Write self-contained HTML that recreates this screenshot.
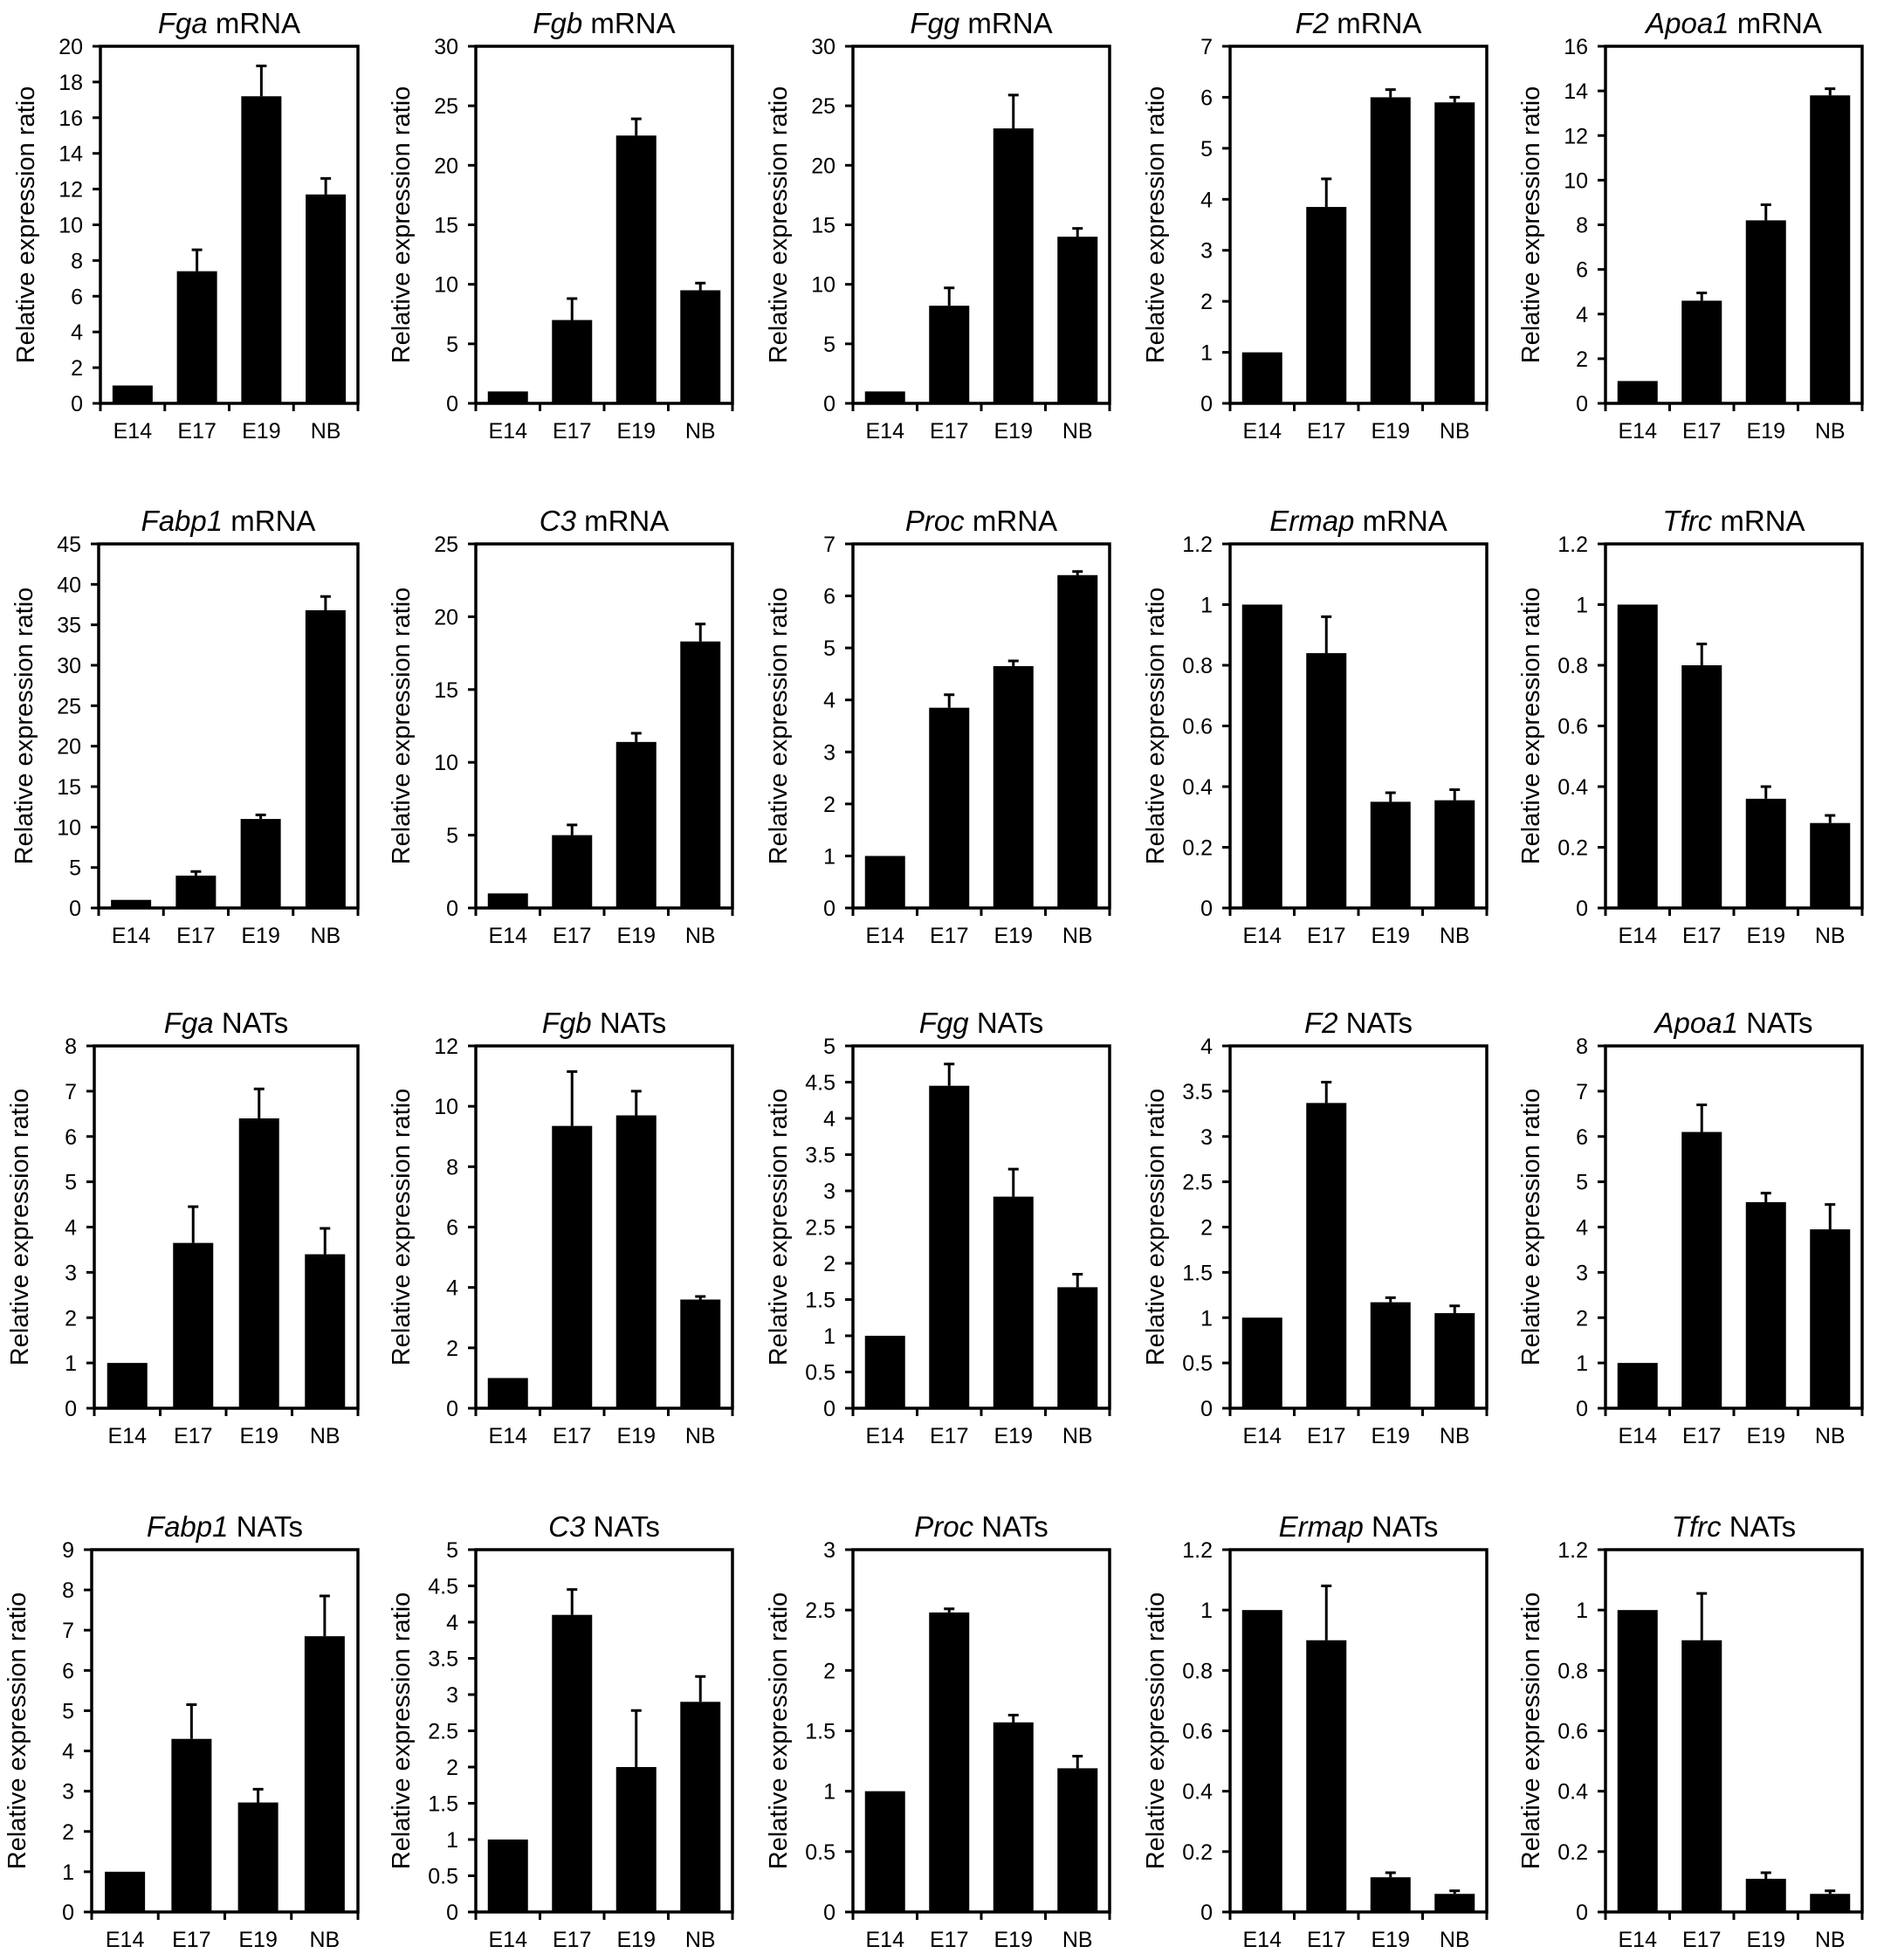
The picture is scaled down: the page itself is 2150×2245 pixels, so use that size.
<!DOCTYPE html>
<html><head><meta charset="utf-8"><style>
html,body{margin:0;padding:0;background:#fff;}
svg{display:block;font-family:"Liberation Sans",Arial,sans-serif;}
</style></head><body>
<svg id="fig" width="2150" height="2245" viewBox="0 0 2150 2245" xmlns="http://www.w3.org/2000/svg"></svg>
<script>
const categories = ["E14","E17","E19","NB"];
const geneNames = ["Fga","Fgb","Fgg","F2","Apoa1","Fabp1","C3","Proc","Ermap","Tfrc",
                   "Fga","Fgb","Fgg","F2","Apoa1","Fabp1","C3","Proc","Ermap","Tfrc"];
const titleSuffix = ["mRNA","mRNA","mRNA","mRNA","mRNA","mRNA","mRNA","mRNA","mRNA","mRNA",
                     "NATs","NATs","NATs","NATs","NATs","NATs","NATs","NATs","NATs","NATs"];
const yMaxes = [20,30,30,7,16, 45,25,7,1.2,1.2, 8,12,5,4,8, 9,5,3,1.2,1.2];
const ySteps = [2,5,5,1,2, 5,5,1,0.2,0.2, 1,2,0.5,0.5,1, 1,0.5,0.5,0.2,0.2];
const meanValues = [
  [1,7.4,17.2,11.7],[1,7,22.5,9.5],[1,8.2,23.1,14],[1,3.85,6,5.9],[1,4.6,8.2,13.8],
  [1,4,11,36.8],[1,5,11.4,18.3],[1,3.85,4.65,6.4],[1,0.84,0.35,0.355],[1,0.8,0.36,0.28],
  [1,3.65,6.4,3.4],[1,9.35,9.7,3.6],[1,4.45,2.92,1.67],[1,3.37,1.17,1.05],[1,6.1,4.55,3.95],
  [1,4.3,2.72,6.85],[1,4.1,2,2.9],[1,2.48,1.57,1.19],[1,0.9,0.115,0.06],[1,0.9,0.11,0.06]
];
const errorTops = [
  [null,8.6,18.9,12.6],[null,8.8,23.9,10.1],[null,9.7,25.9,14.7],[null,4.4,6.15,6.0],[null,4.95,8.9,14.1],
  [null,4.5,11.5,38.5],[null,5.7,12,19.5],[null,4.1,4.75,6.47],[null,0.96,0.38,0.39],[null,0.87,0.4,0.305],
  [null,4.45,7.05,3.97],[null,11.15,10.5,3.7],[null,4.75,3.3,1.85],[null,3.6,1.22,1.13],[null,6.7,4.75,4.5],
  [null,5.15,3.05,7.85],[null,4.45,2.78,3.25],[null,2.51,1.63,1.29],[null,1.08,0.13,0.07],[null,1.055,0.13,0.07]
];

const NS="http://www.w3.org/2000/svg";
const svg=document.getElementById('fig');
function mk(tag,attrs,parent){const e=document.createElementNS(NS,tag);for(const k in attrs)e.setAttribute(k,attrs[k]);(parent||svg).appendChild(e);return e;}

const col1Left=[115,113,108,105];
const colLeft=[0,545,977,1409,1839];
const rowTop=[53,623,1198,1775];
const rowH=[409,417,415,415];
for(let i=0;i<20;i++){
  const r=Math.floor(i/5), c=i%5;
  const L=c===0?col1Left[r]:colLeft[c], T=rowTop[r], H=rowH[r], B=T+H;
  const W=c===0?410-L:294;
  const ymax=yMaxes[i], step=ySteps[i];
  const ys=v=>B-(v/ymax)*H;
  const xc=j=>L+W/4*(j+0.5);
  const g=mk('g',{});
  
  
  const t=mk('text',{x:L+W/2,y:T-15,'text-anchor':'middle','font-size':33},g);
  
  
  const ts=mk('tspan',{'font-style':'italic'},t); ts.textContent=geneNames[i];
  const ts2=mk('tspan',{},t); ts2.textContent=' '+titleSuffix[i];
  const yt=mk('text',{x:0,y:0,transform:`translate(${L-76},${(T+B)/2}) rotate(-90)`,'text-anchor':'middle','font-size':29},g);
  yt.textContent='Relative expression ratio';
  
  
  for(let j=0;j<4;j++){
    const v=meanValues[i][j];
    const bw=46;
    const b=mk('rect',{x:xc(j)-bw/2,y:ys(v),width:bw,height:B-ys(v),fill:'#000'},g);
    
    
    const e=errorTops[i][j];
    if(e!==null){
      const el=mk('path',{d:`M${xc(j)} ${ys(v)}V${ys(e)}M${xc(j)-6} ${ys(e)}H${xc(j)+6}`,stroke:'#000','stroke-width':3,fill:'none'},g);
      
      
    }
    const xl=mk('text',{x:xc(j),y:B+40,'text-anchor':'middle','font-size':25},g);
    xl.textContent=categories[j];
    
    
  }
  const fr=mk('rect',{x:L,y:T,width:W,height:H,fill:'none',stroke:'#000','stroke-width':3.5},g);
  
  
  const n=Math.round(ymax/step);
  for(let k=0;k<=n;k++){
    const v=k*step, y=ys(v);
    mk('line',{x1:L-9,x2:L,y1:y,y2:y,stroke:'#000','stroke-width':3},g);
    const lab=mk('text',{x:L-20,y:y+9,'text-anchor':'end','font-size':25},g);
    lab.textContent=String(parseFloat(v.toFixed(2)));
    
    
  }
  for(let j=0;j<=4;j++){
    const x=L+W/4*j;
    mk('line',{x1:x,x2:x,y1:B,y2:B+9,stroke:'#000','stroke-width':3},g);
  }
}
</script>
</body></html>
